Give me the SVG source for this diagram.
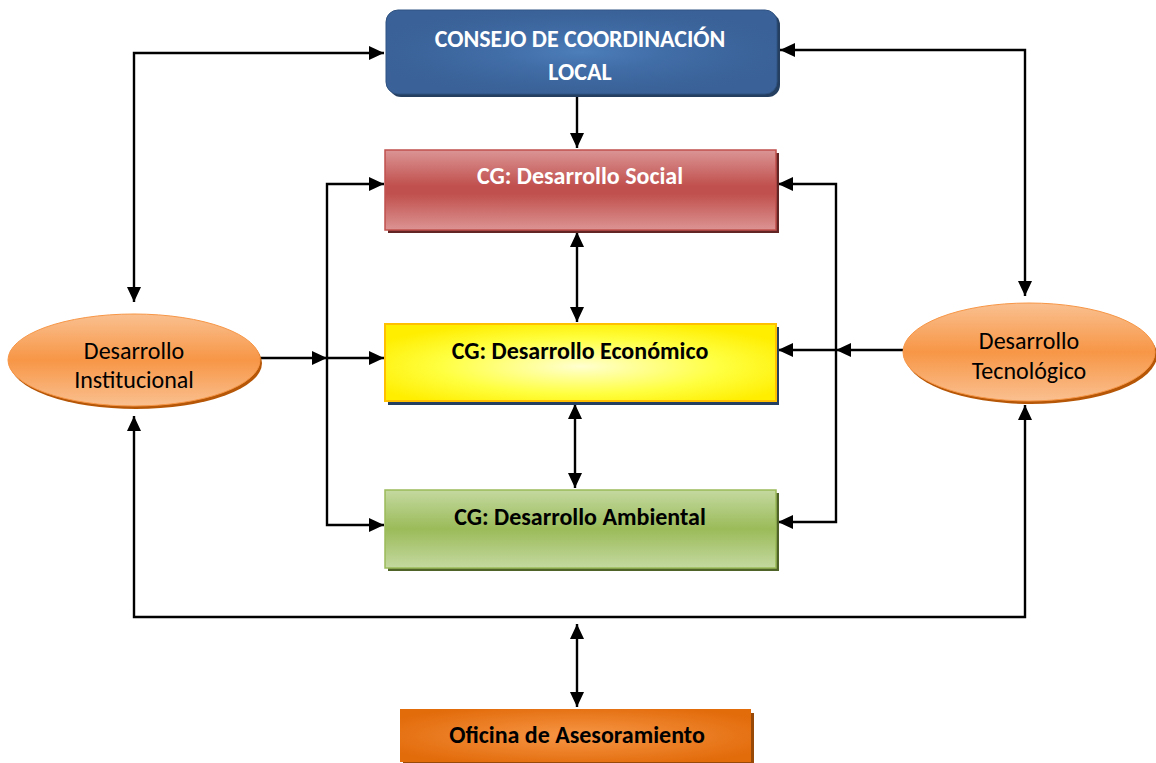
<svg xmlns="http://www.w3.org/2000/svg" width="1156" height="763" viewBox="0 0 1156 763">
<defs>
<linearGradient id="gRed" x1="0" y1="0" x2="0" y2="1"><stop offset="0" stop-color="#db9595"/><stop offset="0.45" stop-color="#c0504d"/><stop offset="0.55" stop-color="#c0504d"/><stop offset="1" stop-color="#dc9493"/></linearGradient>
<radialGradient id="gBlueR" cx="0.5" cy="0.5" r="0.6"><stop offset="0" stop-color="#4f82bf" stop-opacity="0.9"/><stop offset="1" stop-color="#38609a" stop-opacity="0"/></radialGradient>
<radialGradient id="gYellow" cx="0.5" cy="0.55" r="0.6"><stop offset="0" stop-color="#ffffd0"/><stop offset="0.6" stop-color="#ffff40"/><stop offset="1" stop-color="#ffee00"/></radialGradient>
<linearGradient id="gGreen" x1="0" y1="0" x2="0" y2="1"><stop offset="0" stop-color="#c4d9a0"/><stop offset="0.5" stop-color="#9bbb59"/><stop offset="1" stop-color="#c4d9a0"/></linearGradient>
<radialGradient id="gOrange" cx="0.5" cy="0.5" r="0.6"><stop offset="0" stop-color="#f79646"/><stop offset="1" stop-color="#e26b0a"/></radialGradient>
<linearGradient id="gEll" x1="0" y1="0" x2="0" y2="1"><stop offset="0" stop-color="#fac090"/><stop offset="0.5" stop-color="#f79646"/><stop offset="1" stop-color="#fac090"/></linearGradient>
<marker id="ah" viewBox="0 0 15 14" refX="15" refY="7" markerWidth="15" markerHeight="14" markerUnits="userSpaceOnUse" orient="auto-start-reverse"><path d="M0,0 L15,7 L0,14 Z" fill="#000"/></marker>
<style>
.ln{fill:none;stroke:#000;stroke-width:2.4}
.t{font-family:Carlito,Calibri,Lato,"Liberation Sans",sans-serif;font-weight:bold;font-size:24px;text-anchor:middle}
.te{font-family:Carlito,Calibri,Lato,"Liberation Sans",sans-serif;font-size:24px;text-anchor:middle;fill:#000}
</style>
</defs>

<g id="connectors">
<path class="ln" d="M134,302 V53 H384" marker-start="url(#ah)" marker-end="url(#ah)"/>
<path class="ln" d="M780,50 H1025 V296" marker-start="url(#ah)" marker-end="url(#ah)"/>
<path class="ln" d="M577,96 V148" marker-end="url(#ah)"/>
<path class="ln" d="M384,184 H327 V525 H384" marker-start="url(#ah)" marker-end="url(#ah)"/>
<path class="ln" d="M261,358 H327" marker-end="url(#ah)"/>
<path class="ln" d="M327,358 H384" marker-end="url(#ah)"/>
<path class="ln" d="M778,184 H836 V522 H778" marker-start="url(#ah)" marker-end="url(#ah)"/>
<path class="ln" d="M903,350 H836" marker-end="url(#ah)"/>
<path class="ln" d="M836,350 H778" marker-end="url(#ah)"/>
<path class="ln" d="M577,232 V322" marker-start="url(#ah)" marker-end="url(#ah)"/>
<path class="ln" d="M575,404 V488" marker-start="url(#ah)" marker-end="url(#ah)"/>
<path class="ln" d="M134,416 V617 H1025 V405" marker-start="url(#ah)" marker-end="url(#ah)"/>
<path class="ln" d="M577,624 V707" marker-start="url(#ah)" marker-end="url(#ah)"/>
</g>

<g id="consejo">
<rect x="389" y="13" width="391" height="84" rx="12" fill="#243f60"/>
<rect x="386" y="10" width="391" height="84" rx="12" fill="#3a6298" stroke="#2f5281" stroke-width="1"/>
<rect x="386" y="10" width="391" height="84" rx="12" fill="url(#gBlueR)"/>
<text class="t" x="580" y="47" fill="#fff">CONSEJO DE COORDINACIÓN</text>
<text class="t" x="580" y="80" fill="#fff">LOCAL</text>
</g>

<g id="social">
<rect x="388" y="153" width="391" height="80" fill="#632523"/>
<rect x="385" y="150" width="391" height="80" fill="url(#gRed)" stroke="#c0504d" stroke-width="1.5"/>
<text class="t" x="580" y="184" fill="#fff">CG: Desarrollo Social</text>
</g>

<g id="economico">
<rect x="388" y="327" width="391" height="78" fill="#243f60"/>
<rect x="385" y="324" width="391" height="77" fill="url(#gYellow)" stroke="#ffc000" stroke-width="2"/>
<text class="t" x="580" y="359" fill="#000">CG: Desarrollo Económico</text>
</g>

<g id="ambiental">
<rect x="388" y="493" width="391" height="78" fill="#4f6228"/>
<rect x="385" y="490" width="391" height="78" fill="url(#gGreen)" stroke="#9bbb59" stroke-width="1.5"/>
<text class="t" x="580" y="525" fill="#000">CG: Desarrollo Ambiental</text>
</g>

<g id="oficina">
<rect x="403" y="713" width="351" height="50" fill="#984807"/>
<rect x="400" y="709" width="351" height="53" fill="url(#gOrange)"/>
<text class="t" x="577" y="743" fill="#000">Oficina de Asesoramiento</text>
</g>

<g id="institucional">
<ellipse cx="136" cy="363" rx="126" ry="46" fill="#b65708"/>
<ellipse cx="134" cy="360" rx="126" ry="46" fill="url(#gEll)" stroke="#f79646" stroke-width="1"/>
<text class="te" x="134" y="359">Desarrollo</text>
<text class="te" x="134" y="388">Institucional</text>
</g>

<g id="tecnologico">
<ellipse cx="1031" cy="355" rx="126" ry="49" fill="#b65708"/>
<ellipse cx="1029" cy="352" rx="126" ry="49" fill="url(#gEll)" stroke="#f79646" stroke-width="1"/>
<text class="te" x="1029" y="349">Desarrollo</text>
<text class="te" x="1029" y="379">Tecnológico</text>
</g>
</svg>
